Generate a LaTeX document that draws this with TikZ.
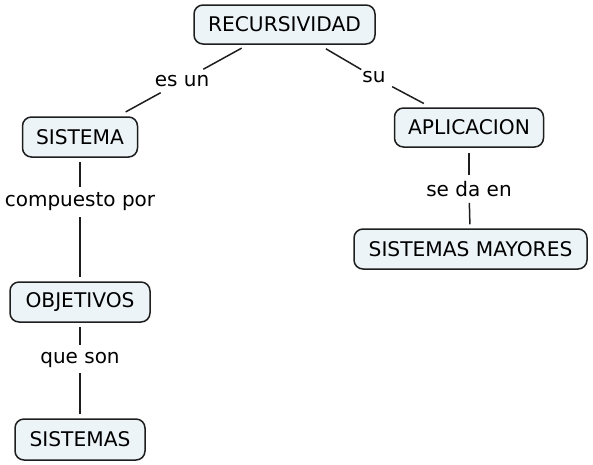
\documentclass[tikz,border=0pt]{standalone}
\usepackage{fontspec}
\setmainfont{DejaVu Sans}
\definecolor{cfill}{RGB}{237,244,247}
\definecolor{cline}{RGB}{30,30,30}
\begin{document}
\begin{tikzpicture}[x=1pt,y=-1pt,
  concept/.style={draw=cline, line width=1.5pt, fill=cfill, rounded corners=9pt, inner sep=0pt, font=\fontsize{20.2}{24}\selectfont},
  linkl/.style={inner sep=0pt, font=\fontsize{20}{24}\selectfont},
  conn/.style={line width=1.5pt, draw=cline}]
\useasboundingbox (0,0) rectangle (593,464);
% concepts
\node[concept, minimum width=181pt, minimum height=39pt] (rec) at (284.5,24.5) {RECURSIVIDAD};
\node[concept, minimum width=115pt, minimum height=40pt] (sis) at (80,137) {SISTEMA};
\node[concept, minimum width=149pt, minimum height=39pt] (apl) at (469,127.5) {APLICACION};
\node[concept, minimum width=233pt, minimum height=40pt] (sm) at (470.5,249) {SISTEMAS MAYORES};
\node[concept, minimum width=140pt, minimum height=40pt] (obj) at (80,302) {OBJETIVOS};
\node[concept, minimum width=130pt, minimum height=41pt] (sist) at (80,439.5) {SISTEMAS};
% linking phrases
\node[linkl] (esun) at (182,81) {es un};
\node[linkl] (su) at (374,77) {su};
\node[linkl] (comp) at (80,202) {compuesto por};
\node[linkl] (seda) at (469,189) {se da en};
\node[linkl] (que) at (80,359.5) {que son};
% connectors
\draw[conn, shorten <=7pt, shorten >=12pt] (rec) -- (esun);
\draw[conn, shorten <=12pt, shorten >=9pt] (esun) -- (sis);
\draw[conn, shorten <=8pt, shorten >=3pt] (rec) -- (su);
\draw[conn, shorten <=8pt, shorten >=8pt] (su) -- (apl);
\draw[conn, shorten <=4pt, shorten >=6pt] (sis) -- (comp);
\draw[conn, shorten <=6pt, shorten >=4pt] (comp) -- (obj);
\draw[conn, shorten <=5pt, shorten >=6pt] (apl) -- (seda);
\draw[conn, shorten <=6pt, shorten >=4pt] (seda) -- (sm);
\draw[conn, shorten <=4pt, shorten >=7pt] (obj) -- (que);
\draw[conn, shorten <=6pt, shorten >=4pt] (que) -- (sist);
\end{tikzpicture}
\end{document}
